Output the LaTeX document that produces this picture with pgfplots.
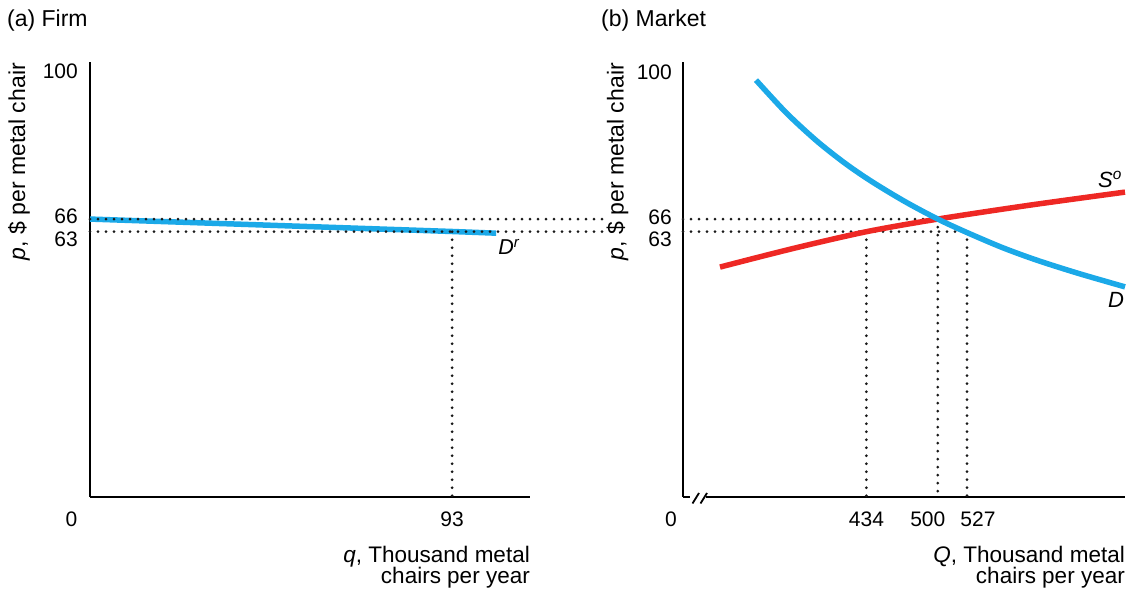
\documentclass[border=0pt]{standalone}
\usepackage{pgfplots}
\pgfplotsset{compat=1.18}
\usepackage{fontspec}
\setmainfont{Liberation Sans}
\definecolor{cblue}{RGB}{27,169,232}
\definecolor{cred}{RGB}{238,40,36}
\definecolor{dotc}{RGB}{25,25,25}
\begin{document}
\begin{tikzpicture}[x=1pt,y=1pt]
\useasboundingbox (0,0) rectangle (1136,599);
\pgfplotsset{
  econ/.style={
    scale only axis, anchor=south west,
    axis lines=left, axis line style={-, line width=2pt, black},
    major tick length=0pt,
    ymin=0, ymax=103.3,
    clip=false,
    ytick={63,66,100},
    yticklabel style={font=\fontsize{21}{21}\selectfont, anchor=base east, inner sep=0pt, yshift=-7.5pt},
    xticklabel style={font=\fontsize{21}{21}\selectfont, anchor=north, inner sep=0pt, yshift=-15pt},
    /pgf/number format/assume math mode=true,
  },
  dotline/.style={dotc, line width=3pt, line cap=round, dash pattern=on 0pt off 8pt, forget plot},
}
% ---------- (a) Firm ----------
\begin{axis}[econ, at={(90pt,102pt)}, width=440pt, height=435pt,
  xmin=0, xmax=113, xtick={93}, xticklabels={93},
  yticklabels={\raisebox{-7.5pt}{63},\raisebox{3.2pt}{66},\raisebox{4.4pt}{100}},
  yticklabel style={xshift=-12pt}]
\addplot[cblue, line width=5.5pt] coordinates {(0,66) (93,63.05) (104.3,62.65)};
\addplot[dotline] coordinates {(0,66) (131.7,66)};
\addplot[dotline] coordinates {(0,63) (131.7,63)};
\addplot[dotline] coordinates {(93,63) (93,0)};
\node[anchor=base west, inner sep=0pt, font=\fontsize{21.5}{21.5}\selectfont] at (axis cs:104.8,57.5) {\textit{D}\textsuperscript{\textit{r}}};
\node[anchor=north, inner sep=0pt, font=\fontsize{21}{21}\selectfont, xshift=-18.5pt, yshift=-15pt] at (axis cs:0,0) {0};
\end{axis}
% ---------- (b) Market ----------
\begin{axis}[econ, at={(683pt,102pt)}, width=442pt, height=435pt,
  xmin=264.4, xmax=673.1, xtick={434,500,527},
  xticklabels={434,\hspace*{-20pt}500,527\hspace*{-22pt}},
  yticklabels={\raisebox{-7.8pt}{63},\raisebox{2.5pt}{66},\raisebox{3.9pt}{100}},
  yticklabel style={xshift=-11pt}]
\addplot[dotline] coordinates {(264.4,66) (500,66)};
\addplot[dotline] coordinates {(264.4,63) (527,63)};
\addplot[dotline] coordinates {(434,63) (434,0)};
\addplot[dotline] coordinates {(500,66) (500,0)};
\addplot[dotline] coordinates {(527,63) (527,0)};
\addplot[cred, line width=5.5pt, smooth] coordinates {(298.6,54.6) (366,59.0) (434,63) (500,66) (585,69.3) (673.1,72.4)};
\addplot[cblue, line width=5.5pt, smooth] coordinates {(331.9,99.0) (360,91.2) (388.3,84.5) (415,79.1) (439.6,74.8) (470,70.1) (500,66) (527,62.8) (560,59.2) (592,56.2) (630,53.1) (673.1,49.9)};
\node[anchor=base west, inner sep=0pt, font=\fontsize{22}{22}\selectfont] at (axis cs:648.1,73.6) {\textit{S}\textsuperscript{\textit{o}}};
\node[anchor=base west, inner sep=0pt, font=\fontsize{22}{22}\selectfont] at (axis cs:657.4,44.9) {\textit{D}};
\node[anchor=north, inner sep=0pt, font=\fontsize{21}{21}\selectfont, xshift=-12pt, yshift=-15pt] at (axis cs:264.4,0) {0};
\end{axis}
% axis break marks
\fill[white] (690,98) rectangle (706,106);
\draw[line width=1.8pt] (692.5,95.5) -- (699,106);
\draw[line width=1.8pt] (700.5,95.5) -- (707,106);
% titles and axis labels
\node[anchor=base west, inner sep=0pt, font=\fontsize{23}{23}\selectfont] at (7,572.3) {(a) Firm};
\node[anchor=base west, inner sep=0pt, font=\fontsize{23}{23}\selectfont] at (601,572.3) {(b) Market};
\node[rotate=90, anchor=base east, inner sep=0pt, font=\fontsize{23}{23}\selectfont] at (25,536) {\textit{p}, \$ per metal chair};
\node[rotate=90, anchor=base east, inner sep=0pt, font=\fontsize{23}{23}\selectfont] at (623.5,536) {\textit{p}, \$ per metal chair};
\node[anchor=base east, inner sep=0pt, font=\fontsize{22.5}{22.5}\selectfont] at (530,36) {\textit{q}, Thousand metal};
\node[anchor=base east, inner sep=0pt, font=\fontsize{22.5}{22.5}\selectfont] at (530,15.5) {chairs per year};
\node[anchor=base east, inner sep=0pt, font=\fontsize{22.5}{22.5}\selectfont] at (1125,36) {\textit{Q}, Thousand metal};
\node[anchor=base east, inner sep=0pt, font=\fontsize{22.5}{22.5}\selectfont] at (1125,15.5) {chairs per year};
\end{tikzpicture}
\end{document}
